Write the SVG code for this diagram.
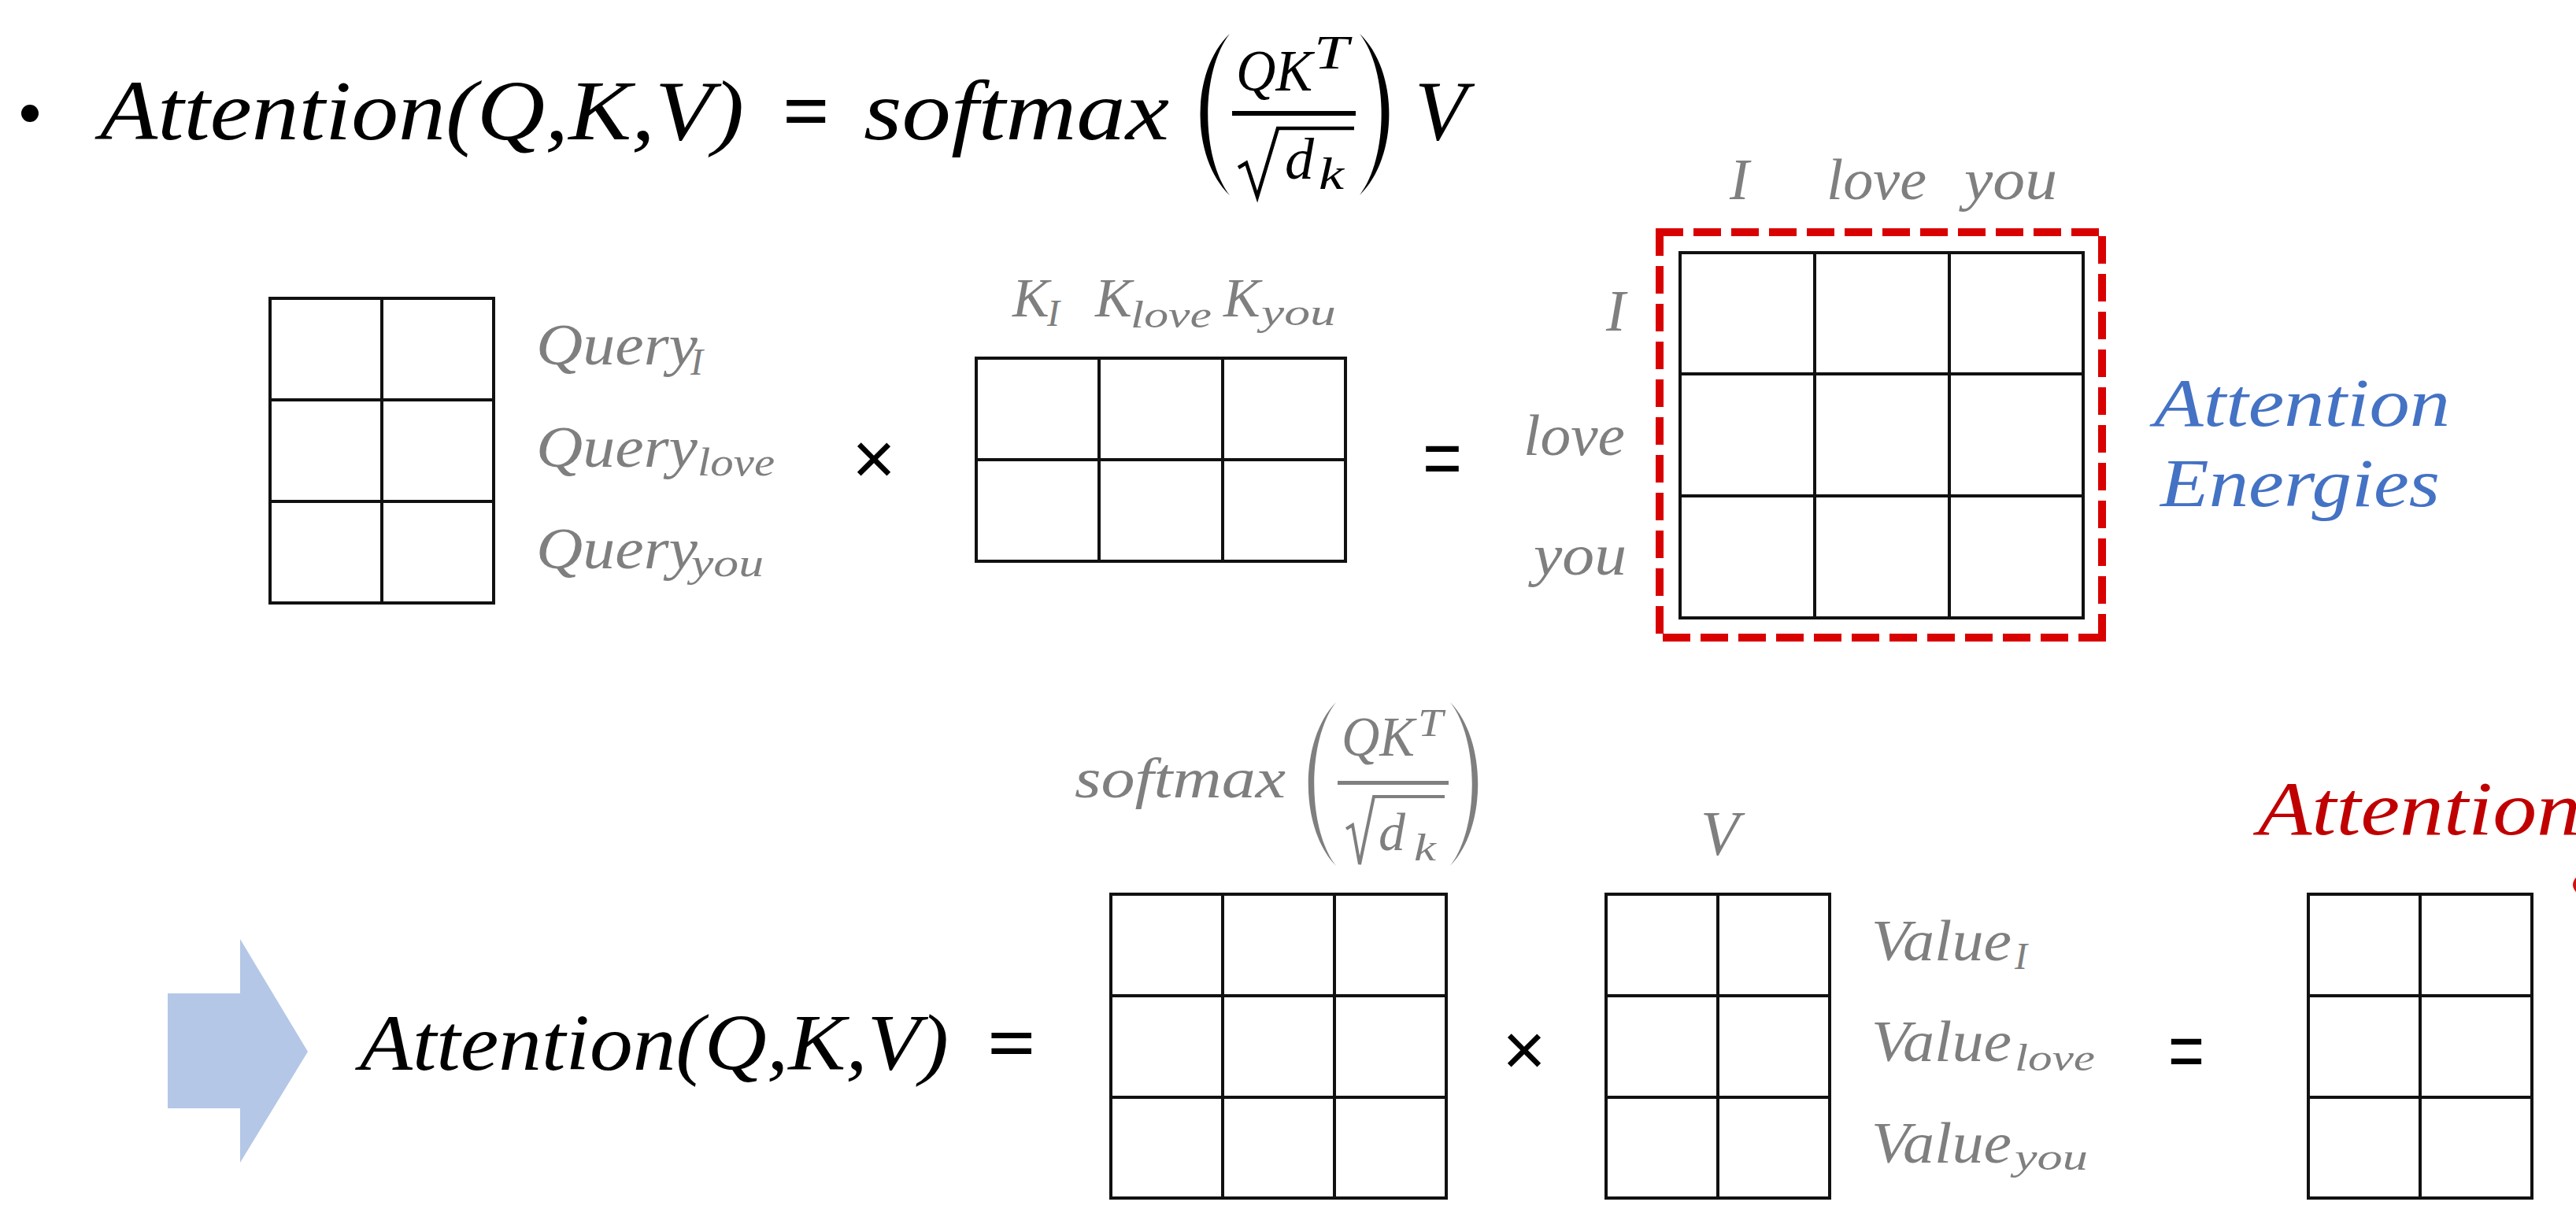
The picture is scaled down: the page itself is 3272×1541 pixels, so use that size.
<svg xmlns="http://www.w3.org/2000/svg" width="3272" height="1541" viewBox="0 0 3272 1541">
<style>
  .m { font-family: "Liberation Serif", "Times New Roman", serif; font-style: italic; }
  .up { font-family: "Liberation Serif", "Times New Roman", serif; }
  .sans { font-family: "Liberation Sans", Arial, sans-serif; }
  .blk { fill: #000; }
  .gry { fill: #7f7f7f; }
  .blu { fill: #4472c4; }
  .red { fill: #c00000; }
  .grid { fill: none; stroke: #111; stroke-width: 4; }
  .dash { fill: none; stroke: #d90000; stroke-width: 10; stroke-dasharray: 35 13; }
</style>
<rect width="3272" height="1541" fill="#fff"/>

<!-- Title formula -->
<g id="title">
  <circle cx="38" cy="144" r="11" fill="#000"/>
  <text class="m blk" x="127" y="177" font-size="108" textLength="818" lengthAdjust="spacingAndGlyphs">Attention(Q,K,V)</text>
  <text class="up blk" x="994" y="177" font-size="108" font-weight="bold" textLength="60" lengthAdjust="spacingAndGlyphs">=</text>
  <text class="m blk" x="1097" y="177" font-size="108" textLength="388" lengthAdjust="spacingAndGlyphs">softmax</text>
  <path d="M1562,43 C1512,90 1512,200 1562,248 C1525,200 1525,90 1562,43 Z" fill="#000"/>
  <text class="m blk" x="1570" y="115" font-size="74" textLength="97" lengthAdjust="spacingAndGlyphs">QK</text>
  <text class="m blk" x="1669" y="87" font-size="62" textLength="44" lengthAdjust="spacingAndGlyphs">T</text>
  <rect x="1565" y="141" width="157" height="6" fill="#000"/>
  <polyline points="1573,213 1583,207 1597,250 1623,163 1720,163" fill="none" stroke="#000" stroke-width="4.5"/>
  <text class="m blk" x="1632" y="227" font-size="74">d</text>
  <text class="m blk" x="1675" y="240" font-size="56" textLength="32" lengthAdjust="spacingAndGlyphs">k</text>
  <path d="M1727,43 C1777,90 1777,200 1727,248 C1764,200 1764,90 1727,43 Z" fill="#000"/>
  <text class="m blk" x="1797" y="177" font-size="108">V</text>
</g>

<!-- Query matrix -->
<g id="query-matrix">
  <rect class="grid" x="343" y="379" width="284" height="387"/>
  <path class="grid" d="M485,379 V766 M343,508 H627 M343,637 H627"/>
</g>
<g id="query-labels">
  <text class="m gry" x="681" y="463" font-size="74" textLength="205" lengthAdjust="spacingAndGlyphs">Query</text>
  <text class="m gry" x="877" y="476" font-size="48">I</text>
  <text class="m gry" x="681" y="593" font-size="74" textLength="205" lengthAdjust="spacingAndGlyphs">Query</text>
  <text class="m gry" x="886" y="604" font-size="50" textLength="98" lengthAdjust="spacingAndGlyphs">love</text>
  <text class="m gry" x="681" y="722" font-size="74" textLength="205" lengthAdjust="spacingAndGlyphs">Query</text>
  <text class="m gry" x="878" y="732" font-size="50" textLength="92" lengthAdjust="spacingAndGlyphs">you</text>
</g>

<g id="times-1">
  <text class="sans blk" x="1110" y="615" font-size="95" text-anchor="middle">×</text>
</g>

<!-- K^T matrix -->
<g id="key-labels">
  <text class="m gry" x="1286" y="402" font-size="70">K</text>
  <text class="m gry" x="1330" y="414" font-size="48">I</text>
  <text class="m gry" x="1391" y="402" font-size="70">K</text>
  <text class="m gry" x="1436" y="416" font-size="48" textLength="103" lengthAdjust="spacingAndGlyphs">love</text>
  <text class="m gry" x="1554" y="402" font-size="70">K</text>
  <text class="m gry" x="1602" y="413" font-size="48" textLength="95" lengthAdjust="spacingAndGlyphs">you</text>
</g>
<g id="key-matrix">
  <rect class="grid" x="1240" y="455" width="469" height="258"/>
  <path class="grid" d="M1396,455 V713 M1553,455 V713 M1240,584 H1709"/>
</g>

<g id="equals-1">
  <text class="sans blk" x="1832" y="616" font-size="100" text-anchor="middle" textLength="50" lengthAdjust="spacingAndGlyphs">=</text>
</g>

<!-- Attention energies -->
<g id="energy-labels">
  <text class="m gry" x="2197" y="253" font-size="74">I</text>
  <text class="m gry" x="2320" y="253" font-size="74" textLength="127" lengthAdjust="spacingAndGlyphs">love</text>
  <text class="m gry" x="2495" y="253" font-size="74" textLength="118" lengthAdjust="spacingAndGlyphs">you</text>
  <text class="m gry" x="2040" y="420" font-size="74">I</text>
  <text class="m gry" x="1935" y="578" font-size="74" textLength="129" lengthAdjust="spacingAndGlyphs">love</text>
  <text class="m gry" x="1948" y="730" font-size="74" textLength="118" lengthAdjust="spacingAndGlyphs">you</text>
</g>
<g id="energy-matrix">
  <rect class="grid" x="2134" y="321" width="512" height="464"/>
  <path class="grid" d="M2305,321 V785 M2476,321 V785 M2134,475 H2646 M2134,630 H2646"/>
</g>
<g id="energy-highlight">
  <path class="dash" d="M2103,295 H2675 M2108,290 V815 M2670,815 V290 M2675,810 H2103"/>
</g>
<g id="energy-caption">
  <text class="m blu" x="2736" y="541" font-size="86" textLength="376" lengthAdjust="spacingAndGlyphs">Attention</text>
  <text class="m blu" x="2744" y="643" font-size="86" textLength="355" lengthAdjust="spacingAndGlyphs">Energies</text>
</g>

<!-- Bottom row -->
<g id="connectors">
  <polygon points="213,1262 305,1262 305,1193 391,1336 305,1477 305,1408 213,1408" fill="#b4c7e7"/>
</g>

<g id="attention-lhs">
  <text class="m blk" x="457" y="1359" font-size="102" textLength="748" lengthAdjust="spacingAndGlyphs">Attention(Q,K,V)</text>
  <text class="up blk" x="1254" y="1359" font-size="102" font-weight="bold" textLength="62" lengthAdjust="spacingAndGlyphs">=</text>
</g>

<g id="softmax-label">
  <text class="m gry" x="1365" y="1013" font-size="72" textLength="268" lengthAdjust="spacingAndGlyphs">softmax</text>
  <path d="M1697,892 C1650,940 1650,1052 1697,1100 C1660,1052 1660,940 1697,892 Z" fill="#7f7f7f"/>
  <text class="m gry" x="1704" y="960" font-size="72" textLength="93" lengthAdjust="spacingAndGlyphs">QK</text>
  <text class="m gry" x="1801" y="935" font-size="50" textLength="32" lengthAdjust="spacingAndGlyphs">T</text>
  <rect x="1699" y="992" width="141" height="5" fill="#7f7f7f"/>
  <polyline points="1710,1053 1718,1048 1727,1098 1745,1012 1835,1012" fill="none" stroke="#7f7f7f" stroke-width="4"/>
  <text class="m gry" x="1751" y="1080" font-size="68">d</text>
  <text class="m gry" x="1796" y="1093" font-size="48" textLength="28" lengthAdjust="spacingAndGlyphs">k</text>
  <path d="M1842,892 C1889,940 1889,1052 1842,1100 C1879,1052 1879,940 1842,892 Z" fill="#7f7f7f"/>
</g>
<g id="softmax-matrix">
  <rect class="grid" x="1411" y="1136" width="426" height="386"/>
  <path class="grid" d="M1553,1136 V1522 M1695,1136 V1522 M1411,1265 H1837 M1411,1394 H1837"/>
</g>

<g id="times-2">
  <text class="sans blk" x="1936" y="1366" font-size="95" text-anchor="middle">×</text>
</g>

<g id="value-label">
  <text class="m gry" x="2160" y="1086" font-size="80">V</text>
</g>
<g id="value-matrix">
  <rect class="grid" x="2040" y="1136" width="284" height="386"/>
  <path class="grid" d="M2182,1136 V1522 M2040,1265 H2324 M2040,1394 H2324"/>
</g>
<g id="value-labels">
  <text class="m gry" x="2377" y="1220" font-size="74" textLength="178" lengthAdjust="spacingAndGlyphs">Value</text>
  <text class="m gry" x="2559" y="1231" font-size="48">I</text>
  <text class="m gry" x="2377" y="1348" font-size="74" textLength="178" lengthAdjust="spacingAndGlyphs">Value</text>
  <text class="m gry" x="2559" y="1360" font-size="48" textLength="102" lengthAdjust="spacingAndGlyphs">love</text>
  <text class="m gry" x="2377" y="1477" font-size="74" textLength="178" lengthAdjust="spacingAndGlyphs">Value</text>
  <text class="m gry" x="2559" y="1486" font-size="48" textLength="93" lengthAdjust="spacingAndGlyphs">you</text>
</g>

<g id="equals-2">
  <text class="sans blk" x="2777" y="1369" font-size="100" text-anchor="middle" textLength="46" lengthAdjust="spacingAndGlyphs">=</text>
</g>

<g id="output-caption">
  <text class="m red" x="2868" y="1060" font-size="97" textLength="410" lengthAdjust="spacingAndGlyphs">Attention</text>
  <ellipse cx="3290" cy="1124" rx="22" ry="16" fill="#d21010"/>
</g>
<g id="output-matrix">
  <rect class="grid" x="2932" y="1136" width="284" height="386"/>
  <path class="grid" d="M3074,1136 V1522 M2932,1265 H3216 M2932,1394 H3216"/>
</g>
</svg>
